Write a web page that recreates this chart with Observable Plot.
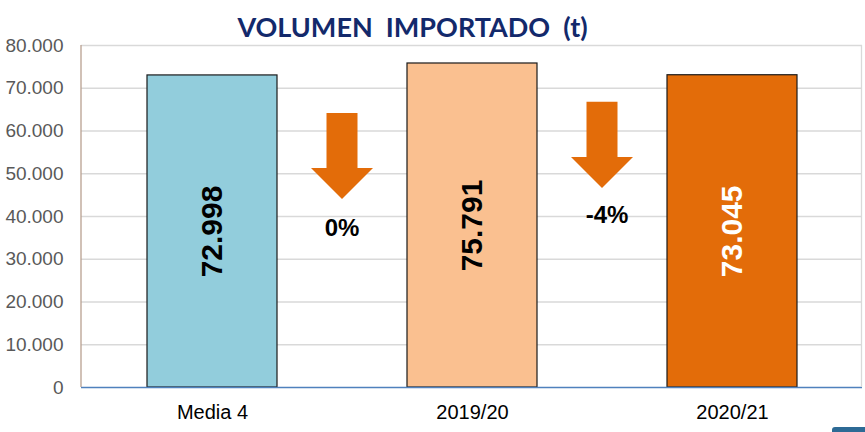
<!DOCTYPE html>
<html>
<head>
<meta charset="utf-8">
<script src="https://cdn.jsdelivr.net/npm/d3@7"></script>
<script src="https://cdn.jsdelivr.net/npm/@observablehq/plot@0.6"></script>
<style>
  html, body { margin: 0; padding: 0; background: #fff; }
  #wrap { position: relative; width: 865px; height: 432px; overflow: hidden; }
  #title {
    position: absolute; left: 0; top: 9px; width: 825px; text-align: center;
    font-family: Lato, "Open Sans", sans-serif; font-weight: 700; font-size: 27px;
    color: #13296B; white-space: pre; line-height: 36px;
  }
  #deco { position: absolute; left: 832px; top: 427px; width: 40px; height: 6px; background: #2D6A95; border-radius: 3px 0 0 0; }
  svg { font-family: "Liberation Sans", Arial, sans-serif; }
  g[aria-label^="y-axis"] text { fill: #595959; }
  g[aria-label^="x-axis"] text { fill: #000; font-size: 20px; }
</style>
</head>
<body>
<div id="wrap">
  <div id="chart"></div>
  <div id="title">VOLUMEN  IMPORTADO  (t)</div>
  <div id="deco"></div>
</div>
<script>
const categories = ["Media 4", "2019/20", "2020/21"];
const values = [72998, 75791, 73045];
const barColors = ["#92CDDC", "#FAC090", "#E36C09"];
const valueLabelColors = ["#000000", "#000000", "#FFFFFF"];
const yTicks = [0, 10000, 20000, 30000, 40000, 50000, 60000, 70000, 80000];
const changeLabels = ["0%", "-4%"];
const arrowTop = [64100, 66700];
const arrowHeadBase = [51200, 53800];
const arrowTip = [44000, 46550];
const changeLabelY = [37400, 40300];
const arrowColor = "#E36C09";

const data = categories.map((c, i) => ({cat: c, value: values[i], fill: barColors[i], lc: valueLabelColors[i]}));
const fmt = d => d === 0 ? "0" : d3.format(",")(d).replace(/,/g, ".");

function arrowsMark(index, scales, values_, dimensions) {
  const x = scales.x, y = scales.y;
  const bw = x.bandwidth ? x.bandwidth() : 0;
  const cx = c => x(c) + bw / 2;
  const ns = "http://www.w3.org/2000/svg";
  const g = document.createElementNS(ns, "g");
  const {marginLeft, marginTop, marginBottom, marginRight, width, height} = dimensions;
  const mk = (x1, c) => {
    const l = document.createElementNS(ns, "line");
    l.setAttribute("x1", x1); l.setAttribute("x2", x1);
    l.setAttribute("y1", marginTop); l.setAttribute("y2", height - marginBottom);
    l.setAttribute("stroke", c); l.setAttribute("stroke-width", 1.3);
    g.appendChild(l);
  };
  mk(marginLeft, "#B9A090");
  mk(width - marginRight - 0.5, "#D9D9D9");
  for (let i = 0; i < changeLabels.length; i++) {
    const xm = (cx(categories[i]) + cx(categories[i + 1])) / 2;
    const sw = 15.5, hw = 31;
    const yt = y(arrowTop[i]), yh = y(arrowHeadBase[i]), yp = y(arrowTip[i]);
    const p = document.createElementNS(ns, "path");
    p.setAttribute("d", `M${xm - sw},${yt}H${xm + sw}V${yh}H${xm + hw}L${xm},${yp}L${xm - hw},${yh}H${xm - sw}Z`);
    p.setAttribute("fill", arrowColor);
    g.appendChild(p);
    const t = document.createElementNS(ns, "text");
    t.setAttribute("x", xm + (i === 0 ? 0 : 5));
    t.setAttribute("y", y(changeLabelY[i]));
    t.setAttribute("text-anchor", "middle");
    t.setAttribute("dominant-baseline", "central");
    t.setAttribute("font-size", 24);
    t.setAttribute("font-weight", "bold");
    t.setAttribute("fill", "#000");
    t.textContent = changeLabels[i];
    g.appendChild(t);
  }
  return g;
}

const chart = Plot.plot({
  width: 865,
  height: 432,
  marginLeft: 81,
  marginRight: 3,
  marginTop: 45,
  marginBottom: 45,
  style: {fontSize: "19px", fontFamily: "'Liberation Sans', Arial, sans-serif", background: "transparent"},
  x: {domain: categories, paddingInner: 0.5, paddingOuter: 0.25, label: null, tickSize: 0, tickPadding: 17},
  y: {domain: [0, 80000], ticks: 8, tickFormat: fmt, label: null, tickSize: 0, tickPadding: 18},
  marks: [
    Plot.ruleY(yTicks.filter(d => d > 0), {stroke: "#D9D9D9", strokeWidth: 1.3}),
    Plot.barY(data, {x: "cat", y: "value", fill: "fill", stroke: "#1A1A1A", strokeWidth: 1.2}),
    Plot.ruleY([0], {stroke: "#4F81BD", strokeWidth: 1.5}),
    Plot.text(data, {x: "cat", y: d => d.value / 2, text: d => fmt(d.value), rotate: -90, fill: "lc",
      fontSize: 30, fontWeight: "bold"}),
    arrowsMark
  ]
});
document.getElementById("chart").appendChild(chart);
</script>
</body>
</html>
